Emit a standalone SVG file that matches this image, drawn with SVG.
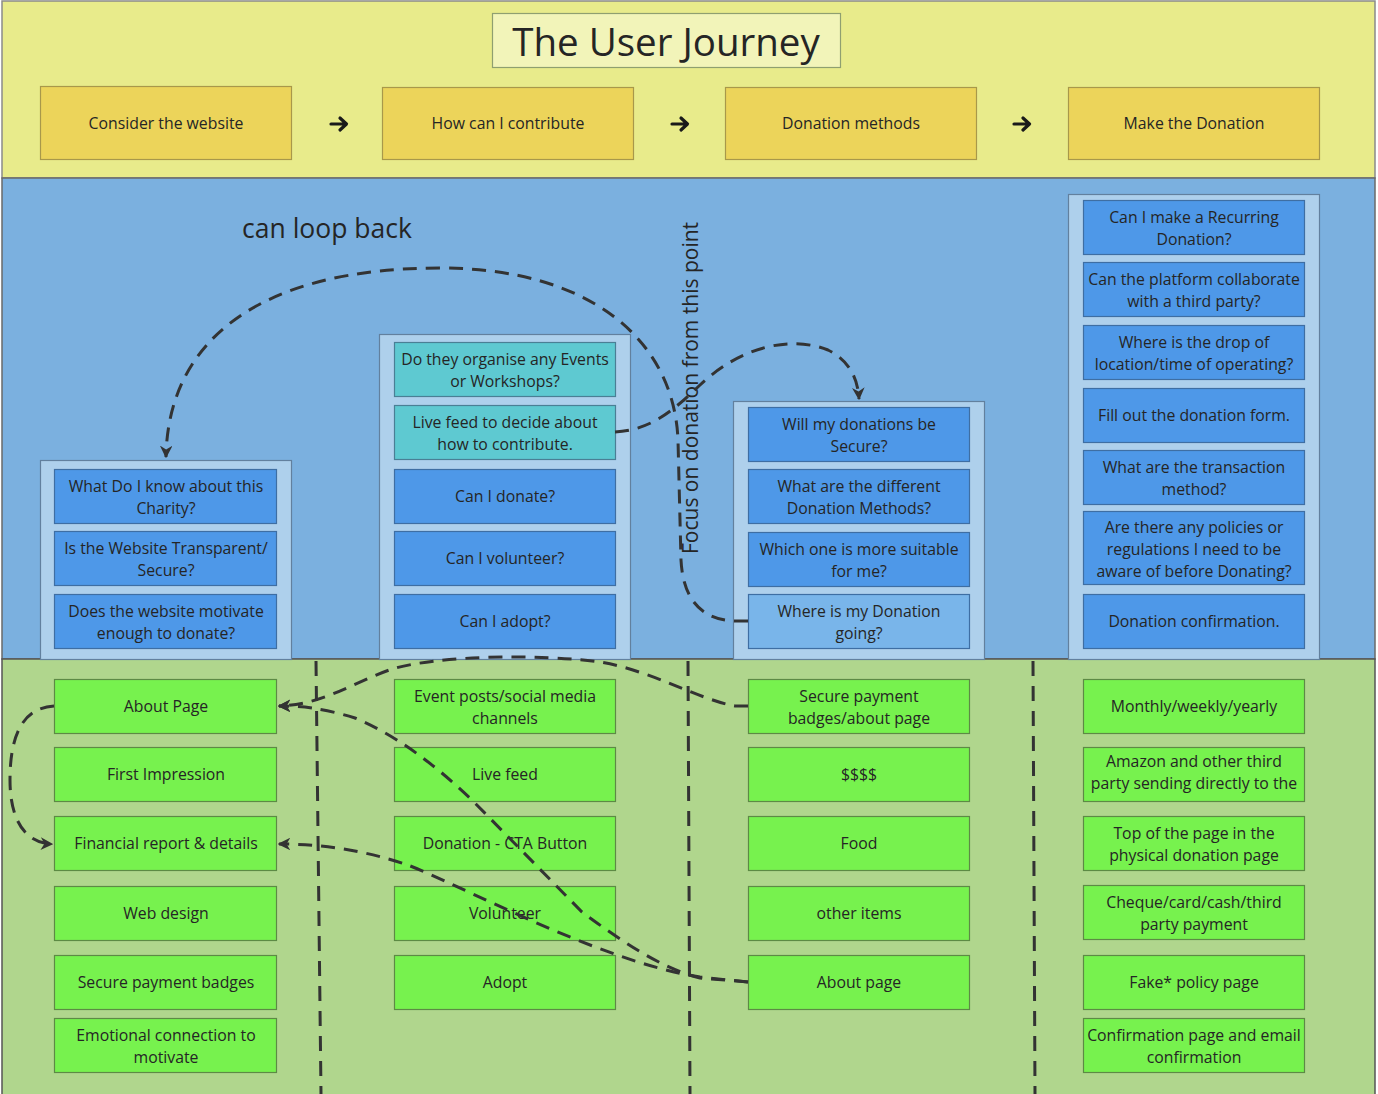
<svg xmlns="http://www.w3.org/2000/svg" width="1378" height="1094" viewBox="0 0 1378 1094">
<defs>
<style>
text{font-family:"Open Sans","Noto Sans","Liberation Sans",sans-serif;fill:#252525;text-anchor:middle}
.t{font-size:15.8px}
.top{fill:#ecd45a;stroke:#a8984a;stroke-width:1.2}
.cont{fill:#aed0ec;stroke:#62809e;stroke-width:1.2}
.q{fill:#4e98e8;stroke:#3e6ea3;stroke-width:1.2}
.teal{fill:#5ec9d1;stroke:#4a7f95;stroke-width:1.2}
.ql{fill:#79b5ea;stroke:#3e6ea3;stroke-width:1.2}
.g{fill:#77f24e;stroke:#5d8a45;stroke-width:1.2}
.dash{fill:none;stroke:#333;stroke-width:3;stroke-dasharray:14 9}
.div{fill:none;stroke:#333;stroke-width:3;stroke-dasharray:15 10}
.arr{fill:none;stroke:#1a1a1a;stroke-width:3.2;stroke-linecap:round;stroke-linejoin:round}
</style>
<marker id="ah" viewBox="0 0 10 10" refX="9" refY="5" markerWidth="4.2" markerHeight="4.2" orient="auto" markerUnits="strokeWidth">
<path d="M0,0 L10,5 L0,10 L3,5 Z" fill="#333"/>
</marker>
</defs>

<!-- bands -->
<rect x="2" y="1" width="1373" height="177" fill="#e8eb8b" stroke="#8a8a8a" stroke-width="1.5"/>
<rect x="2" y="178" width="1373" height="481" fill="#7bb0df" stroke="#6a6a6a" stroke-width="1.5"/>
<rect x="2" y="659" width="1373" height="436" fill="#b0d68d" stroke="#555" stroke-width="1.5"/>

<!-- title -->
<g id="title">
<rect x="492.5" y="13.5" width="348" height="54" fill="#f2f4b9" stroke="#8f9f70" stroke-width="1.2"/>
<text x="666" y="56" style="font-size:38.5px">The User Journey</text>
</g>

<!-- top stages -->
<g id="stage1"><rect class="top" x="40.5" y="86.5" width="251" height="73"/><text class="t" x="166" y="129">Consider the website</text></g>
<g id="stage2"><rect class="top" x="382.5" y="87.5" width="251" height="72"/><text class="t" x="508" y="129">How can I contribute</text></g>
<g id="stage3"><rect class="top" x="725.5" y="87.5" width="251" height="72"/><text class="t" x="851" y="129">Donation methods</text></g>
<g id="stage4"><rect class="top" x="1068.5" y="87.5" width="251" height="72"/><text class="t" x="1194" y="129">Make the Donation</text></g>
<g id="stage-arrows">
<path class="arr" d="M331,124 H346 M340,118 L346.5,124 L340,130"/>
<path class="arr" d="M672,124 H687 M681,118 L687.5,124 L681,130"/>
<path class="arr" d="M1014,124 H1029 M1023,118 L1029.5,124 L1023,130"/>
</g>

<!-- labels -->
<text x="327" y="238" style="font-size:26.5px">can loop back</text>
<text transform="translate(698,388) rotate(-90)" style="font-size:21px">Focus on donation from this point</text>

<!-- column containers -->
<rect class="cont" x="40.5" y="460.5" width="251" height="199"/>
<rect class="cont" x="379.5" y="334.5" width="251" height="325"/>
<rect class="cont" x="733.5" y="401.5" width="251" height="258"/>
<rect class="cont" x="1068.5" y="194.5" width="251" height="465"/>

<!-- column 1 questions -->
<g id="q1a"><rect class="q" x="54.5" y="469.5" width="222" height="54"/><text class="t"><tspan x="166" y="492">What Do I know about this</tspan><tspan x="166" y="514">Charity?</tspan></text></g>
<g id="q1b"><rect class="q" x="54.5" y="531.5" width="222" height="54"/><text class="t"><tspan x="166" y="554">Is the Website Transparent/</tspan><tspan x="166" y="576">Secure?</tspan></text></g>
<g id="q1c"><rect class="q" x="54.5" y="594.5" width="222" height="54"/><text class="t"><tspan x="166" y="617">Does the website motivate</tspan><tspan x="166" y="639">enough to donate?</tspan></text></g>

<!-- column 2 questions -->
<g id="q2a"><rect class="teal" x="394.5" y="342.5" width="221" height="54"/><text class="t"><tspan x="505" y="365">Do they organise any Events</tspan><tspan x="505" y="387">or Workshops?</tspan></text></g>
<g id="q2b"><rect class="teal" x="394.5" y="405.5" width="221" height="54"/><text class="t"><tspan x="505" y="428">Live feed to decide about</tspan><tspan x="505" y="450">how to contribute.</tspan></text></g>
<g id="q2c"><rect class="q" x="394.5" y="469.5" width="221" height="54"/><text class="t" x="505" y="502">Can I donate?</text></g>
<g id="q2d"><rect class="q" x="394.5" y="531.5" width="221" height="54"/><text class="t" x="505" y="564">Can I volunteer?</text></g>
<g id="q2e"><rect class="q" x="394.5" y="594.5" width="221" height="54"/><text class="t" x="505" y="627">Can I adopt?</text></g>

<!-- column 3 questions -->
<g id="q3a"><rect class="q" x="748.5" y="407.5" width="221" height="54"/><text class="t"><tspan x="859" y="430">Will my donations be</tspan><tspan x="859" y="452">Secure?</tspan></text></g>
<g id="q3b"><rect class="q" x="748.5" y="469.5" width="221" height="54"/><text class="t"><tspan x="859" y="492">What are the different</tspan><tspan x="859" y="514">Donation Methods?</tspan></text></g>
<g id="q3c"><rect class="q" x="748.5" y="532.5" width="221" height="54"/><text class="t"><tspan x="859" y="555">Which one is more suitable</tspan><tspan x="859" y="577">for me?</tspan></text></g>
<g id="q3d"><rect class="ql" x="748.5" y="594.5" width="221" height="54"/><text class="t"><tspan x="859" y="617">Where is my Donation</tspan><tspan x="859" y="639">going?</tspan></text></g>

<!-- column 4 questions -->
<g id="q4a"><rect class="q" x="1083.5" y="200.5" width="221" height="54"/><text class="t"><tspan x="1194" y="223">Can I make a Recurring</tspan><tspan x="1194" y="245">Donation?</tspan></text></g>
<g id="q4b"><rect class="q" x="1083.5" y="262.5" width="221" height="54"/><text class="t"><tspan x="1194" y="285">Can the platform collaborate</tspan><tspan x="1194" y="307">with a third party?</tspan></text></g>
<g id="q4c"><rect class="q" x="1083.5" y="325.5" width="221" height="54"/><text class="t"><tspan x="1194" y="348">Where is the drop of</tspan><tspan x="1194" y="370">location/time of operating?</tspan></text></g>
<g id="q4d"><rect class="q" x="1083.5" y="388.5" width="221" height="54"/><text class="t" x="1194" y="421">Fill out the donation form.</text></g>
<g id="q4e"><rect class="q" x="1083.5" y="450.5" width="221" height="54"/><text class="t"><tspan x="1194" y="473">What are the transaction</tspan><tspan x="1194" y="495">method?</tspan></text></g>
<g id="q4f"><rect class="q" x="1083.5" y="511.5" width="221" height="73"/><text class="t"><tspan x="1194" y="533">Are there any policies or</tspan><tspan x="1194" y="555">regulations I need to be</tspan><tspan x="1194" y="577">aware of before Donating?</tspan></text></g>
<g id="q4g"><rect class="q" x="1083.5" y="594.5" width="221" height="54"/><text class="t" x="1194" y="627">Donation confirmation.</text></g>

<!-- green column 1 -->
<g id="a1"><rect class="g" x="54.5" y="679.5" width="222" height="54"/><text class="t" x="166" y="712">About Page</text></g>
<g id="a2"><rect class="g" x="54.5" y="747.5" width="222" height="54"/><text class="t" x="166" y="780">First Impression</text></g>
<g id="a3"><rect class="g" x="54.5" y="816.5" width="222" height="54"/><text class="t" x="166" y="849">Financial report &amp; details</text></g>
<g id="a4"><rect class="g" x="54.5" y="886.5" width="222" height="54"/><text class="t" x="166" y="919">Web design</text></g>
<g id="a5"><rect class="g" x="54.5" y="955.5" width="222" height="54"/><text class="t" x="166" y="988">Secure payment badges</text></g>
<g id="a6"><rect class="g" x="54.5" y="1018.5" width="222" height="54"/><text class="t"><tspan x="166" y="1041">Emotional connection to</tspan><tspan x="166" y="1063">motivate</tspan></text></g>

<!-- green column 2 -->
<g id="b1"><rect class="g" x="394.5" y="679.5" width="221" height="54"/><text class="t"><tspan x="505" y="702">Event posts/social media</tspan><tspan x="505" y="724">channels</tspan></text></g>
<g id="b2"><rect class="g" x="394.5" y="747.5" width="221" height="54"/><text class="t" x="505" y="780">Live feed</text></g>
<g id="b3"><rect class="g" x="394.5" y="816.5" width="221" height="54"/><text class="t" x="505" y="849">Donation - CTA Button</text></g>
<g id="b4"><rect class="g" x="394.5" y="886.5" width="221" height="54"/><text class="t" x="505" y="919">Volunteer</text></g>
<g id="b5"><rect class="g" x="394.5" y="955.5" width="221" height="54"/><text class="t" x="505" y="988">Adopt</text></g>

<!-- green column 3 -->
<g id="c1"><rect class="g" x="748.5" y="679.5" width="221" height="54"/><text class="t"><tspan x="859" y="702">Secure payment</tspan><tspan x="859" y="724">badges/about page</tspan></text></g>
<g id="c2"><rect class="g" x="748.5" y="747.5" width="221" height="54"/><text class="t" x="859" y="780">$$$$</text></g>
<g id="c3"><rect class="g" x="748.5" y="816.5" width="221" height="54"/><text class="t" x="859" y="849">Food</text></g>
<g id="c4"><rect class="g" x="748.5" y="886.5" width="221" height="54"/><text class="t" x="859" y="919">other items</text></g>
<g id="c5"><rect class="g" x="748.5" y="955.5" width="221" height="54"/><text class="t" x="859" y="988">About page</text></g>

<!-- green column 4 -->
<g id="d1"><rect class="g" x="1083.5" y="679.5" width="221" height="54"/><text class="t" x="1194" y="712">Monthly/weekly/yearly</text></g>
<g id="d2"><rect class="g" x="1083.5" y="747.5" width="221" height="54"/><text class="t"><tspan x="1194" y="767">Amazon and other third</tspan><tspan x="1194" y="789">party sending directly to the</tspan></text></g>
<g id="d3"><rect class="g" x="1083.5" y="816.5" width="221" height="54"/><text class="t"><tspan x="1194" y="839">Top of the page in the</tspan><tspan x="1194" y="861">physical donation page</tspan></text></g>
<g id="d4"><rect class="g" x="1083.5" y="885.5" width="221" height="54"/><text class="t"><tspan x="1194" y="908">Cheque/card/cash/third</tspan><tspan x="1194" y="930">party payment</tspan></text></g>
<g id="d5"><rect class="g" x="1083.5" y="955.5" width="221" height="54"/><text class="t" x="1194" y="988">Fake* policy page</text></g>
<g id="d6"><rect class="g" x="1083.5" y="1018.5" width="221" height="54"/><text class="t"><tspan x="1194" y="1041">Confirmation page and email</tspan><tspan x="1194" y="1063">confirmation</tspan></text></g>

<!-- connectors -->
<g id="connectors">
<path class="div" d="M316,661 L321,1094"/>
<path class="div" d="M688,661 L690,1094"/>
<path class="div" d="M1033,661 L1035,1094"/>
<path class="dash" marker-end="url(#ah)" d="M748,621 L735,621 C702,620 683,600 681,560 L678,440 C674,340 590,268 440,268 C260,268 168,340 166,457"/>
<path class="dash" marker-end="url(#ah)" d="M615,432 C650,430 672,412 700,385 C740,347 790,335 828,350 C852,362 858,382 859,399"/>
<path class="dash" marker-end="url(#ah)" d="M748,706 L735,706 C700,700 650,670 600,662 C540,654 440,655 392,669 C352,683 322,705 279,706"/>
<path class="dash" marker-end="url(#ah)" d="M748,982 L700,978 C660,968 620,940 582,912 L472,800 C432,762 395,735 355,718 C322,708 302,706 279,706"/>
<path class="dash" marker-end="url(#ah)" d="M748,982 L700,977 C600,962 455,882 405,864 C362,850 322,844 279,844"/>
<path class="dash" marker-end="url(#ah)" d="M54,706 C20,708 10,740 10,780 C10,820 25,843 52,844"/>
</g>
</svg>
